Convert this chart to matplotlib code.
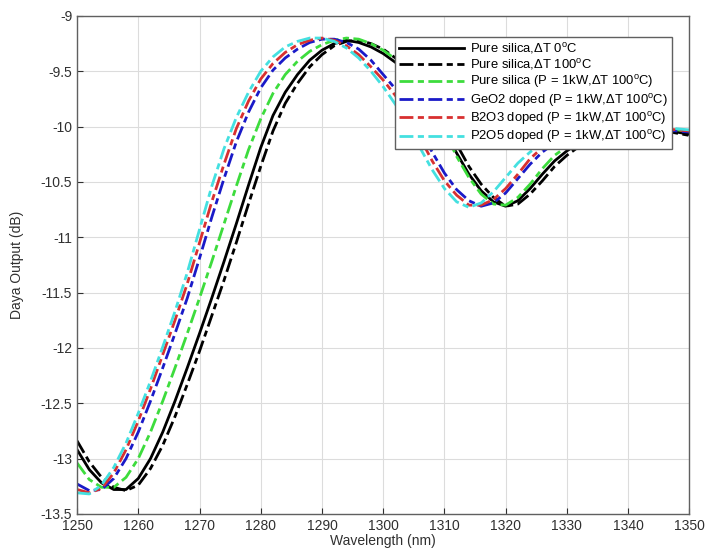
import numpy as np
import matplotlib
matplotlib.use("Agg")
import matplotlib.pyplot as plt

plt.rcParams['font.family'] = ['Liberation Sans', 'DejaVu Sans']
plt.rcParams['mathtext.default'] = 'regular'

# wavelength samples (nm)
wavelength = np.arange(1250, 1351, 2)

# Pure silica, dT 0 C
pure_0 = [-12.92, -13.10, -13.22, -13.28, -13.28, -13.18, -13.00, -12.76, -12.48, -12.18,
          -11.87, -11.55, -11.22, -10.88, -10.53, -10.19, -9.90, -9.69, -9.53, -9.40,
          -9.31, -9.25, -9.22, -9.24, -9.28, -9.34, -9.42, -9.53, -9.67, -9.84,
          -10.04, -10.24, -10.43, -10.58, -10.68, -10.72, -10.67, -10.56, -10.43, -10.31,
          -10.22, -10.15, -10.10, -10.06, -10.03, -10.02, -10.01, -10.02, -10.03, -10.05,
          -10.07]
# Pure silica, dT 100 C
pure_100 = [-12.84, -13.03, -13.17, -13.26, -13.29, -13.24, -13.09, -12.88, -12.62, -12.33,
            -12.03, -11.71, -11.39, -11.05, -10.70, -10.36, -10.04, -9.79, -9.61, -9.46,
            -9.35, -9.27, -9.23, -9.22, -9.25, -9.30, -9.38, -9.48, -9.61, -9.77,
            -9.96, -10.16, -10.36, -10.52, -10.64, -10.72, -10.70, -10.61, -10.49, -10.36,
            -10.26, -10.18, -10.12, -10.08, -10.05, -10.03, -10.02, -10.02, -10.04, -10.06,
            -10.08]
# Pure silica (P = 1kW, dT 100 C)
pure_1kw = [-13.04, -13.19, -13.26, -13.26, -13.17, -13.00, -12.76, -12.48, -12.18, -11.87,
            -11.55, -11.22, -10.88, -10.54, -10.21, -9.93, -9.70, -9.53, -9.41, -9.32,
            -9.26, -9.22, -9.20, -9.21, -9.25, -9.31, -9.39, -9.50, -9.65, -9.83,
            -10.04, -10.27, -10.46, -10.61, -10.70, -10.71, -10.64, -10.52, -10.38, -10.26,
            -10.18, -10.12, -10.07, -10.04, -10.02, -10.01, -10.01, -10.01, -10.02, -10.03,
            -10.04]
# GeO2 doped
geo2 = [-13.23, -13.29, -13.28, -13.18, -13.00, -12.76, -12.48, -12.18, -11.87, -11.55,
        -11.19, -10.82, -10.47, -10.14, -9.87, -9.65, -9.49, -9.38, -9.30, -9.24,
        -9.21, -9.21, -9.24, -9.30, -9.40, -9.53, -9.66, -9.83, -10.03, -10.23,
        -10.42, -10.57, -10.67, -10.72, -10.69, -10.60, -10.47, -10.34, -10.23, -10.15,
        -10.10, -10.06, -10.03, -10.02, -10.01, -10.01, -10.01, -10.02, -10.03, -10.04,
        -10.05]
# B2O3 doped
b2o3 = [-13.28, -13.31, -13.27, -13.13, -12.92, -12.66, -12.37, -12.06, -11.75, -11.42,
        -11.05, -10.68, -10.34, -10.02, -9.77, -9.57, -9.43, -9.33, -9.26, -9.22,
        -9.20, -9.22, -9.27, -9.35, -9.46, -9.58, -9.72, -9.89, -10.10, -10.31,
        -10.49, -10.62, -10.71, -10.71, -10.66, -10.56, -10.43, -10.29, -10.19, -10.12,
        -10.07, -10.04, -10.02, -10.01, -10.00, -10.00, -10.01, -10.01, -10.02, -10.03,
        -10.04]
# P2O5 doped
p2o5 = [-13.31, -13.32, -13.24, -13.08, -12.86, -12.59, -12.30, -11.99, -11.67, -11.32,
        -10.93, -10.54, -10.20, -9.92, -9.69, -9.50, -9.37, -9.28, -9.23, -9.20,
        -9.20, -9.23, -9.29, -9.38, -9.50, -9.64, -9.80, -9.98, -10.19, -10.39,
        -10.56, -10.68, -10.73, -10.69, -10.59, -10.46, -10.33, -10.23, -10.15, -10.09,
        -10.05, -10.03, -10.01, -10.00, -10.00, -10.00, -10.00, -10.01, -10.01, -10.02,
        -10.03]

labels = [
    r'Pure silica,$\Delta$T 0$^o$C',
    r'Pure silica,$\Delta$T 100$^o$C',
    r'Pure silica (P = 1kW,$\Delta$T 100$^o$C)',
    r'GeO2 doped (P = 1kW,$\Delta$T 100$^o$C)',
    r'B2O3 doped (P = 1kW,$\Delta$T 100$^o$C)',
    r'P2O5 doped (P = 1kW,$\Delta$T 100$^o$C)',
]
series = [pure_0, pure_100, pure_1kw, geo2, b2o3, p2o5]
colors = ['black', 'black', '#3ddc3d', '#1a1ac8', '#d83030', '#44e0e0']
dashdot = (0, (5, 1.6, 2.2, 1.6))

fig = plt.figure(figsize=(7.07, 5.49), dpi=100)
ax = fig.add_axes([0.109, 0.064, 0.866, 0.907])

for i, (vals, col, lab) in enumerate(zip(series, colors, labels)):
    ls = '-' if i == 0 else dashdot
    ax.plot(wavelength, vals, color=col, linestyle=ls, linewidth=2.0, label=lab)

ax.set_xlim(1250, 1350)
ax.set_ylim(-13.5, -9)
ax.set_xticks(np.arange(1250, 1351, 10))
ax.set_yticks(np.arange(-13.5, -8.9, 0.5))
ax.set_yticklabels(['-13.5', '-13', '-12.5', '-12', '-11.5', '-11', '-10.5', '-10', '-9.5', '-9'])
ax.grid(True, color='#dcdcdc', linewidth=0.8)
ax.set_axisbelow(True)
ax.tick_params(direction='in', labelsize=10, colors='#303030', length=4)
for sp in ax.spines.values():
    sp.set_color('#606060')
    sp.set_linewidth(1.0)

ax.set_xlabel('Wavelength (nm)', fontsize=10, color='#303030', labelpad=1)
ax.set_ylabel('Daya Output (dB)', fontsize=10, color='#303030', labelpad=12)

leg = ax.legend(loc='upper right', bbox_to_anchor=(0.972, 0.958), fontsize=9.4,
                fancybox=False, framealpha=1, edgecolor='#606060', handlelength=5.0,
                borderpad=0.3, labelspacing=0.1, handletextpad=0.5, borderaxespad=0)
leg.get_frame().set_linewidth(1.0)

fig.savefig('out.png', dpi=100)
